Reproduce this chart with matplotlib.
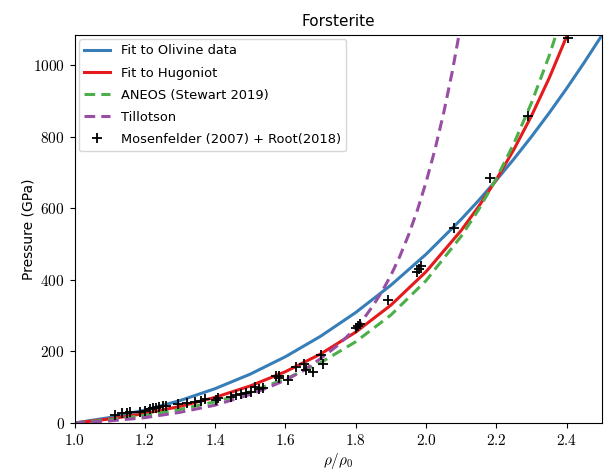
import numpy as np
import matplotlib
matplotlib.use("Agg")
import matplotlib.pyplot as plt
from matplotlib.ticker import FuncFormatter

# density ratio rho/rho0 grid used for the curves
x_fit = [1.0, 1.1, 1.2, 1.3, 1.4, 1.5, 1.6, 1.7, 1.8, 1.9, 2.0, 2.1, 2.15, 2.2,
         2.25, 2.3, 2.35, 2.4, 2.45, 2.5]

# Fit to olivine data (GPa)
p_olivine = [0, 15.3, 36.0, 62.7, 96.1, 136.7, 185.4, 242.5, 308.9, 385.2, 471.6,
             569.3, 622.4, 678.7, 738.0, 800.4, 866.0, 935.1, 1007.5, 1083.1]

# Fit to Hugoniot (GPa)
p_hugoniot = [0, 11.4, 26.7, 46.5, 71.8, 103.7, 143.5, 192.9, 254.1, 329.5, 422.8,
              538.2, 605.6, 680.5, 764.6, 858.6, 963.2, 1080.4, 1211.5, 1360.0]

# ANEOS (Stewart 2019)
x_aneos = [1.0, 1.1, 1.2, 1.3, 1.4, 1.5, 1.6, 1.7, 1.8, 1.9, 2.0, 2.1, 2.15, 2.2,
           2.25, 2.3, 2.35, 2.4]
p_aneos = [0, 9.1, 21.4, 37.9, 59.4, 87.3, 123.0, 168.7, 227.2, 301.9, 398.0,
           521.9, 597.1, 683.1, 781.6, 894.9, 1025.5, 1176.5]

# Tillotson
x_till = [1.0, 1.1, 1.2, 1.3, 1.4, 1.5, 1.55, 1.6, 1.65, 1.7, 1.75, 1.8, 1.825,
          1.85, 1.875, 1.9, 1.925, 1.95, 1.975, 2.0, 2.025, 2.05, 2.075, 2.1]
p_till = [0, 6, 15, 30, 50, 80, 99, 120, 146, 180, 218, 265, 295,
          329, 368, 413, 465, 525, 594, 673, 763, 866, 984, 1119]

# Mosenfelder (2007) + Root (2018) data
x_data = [1.115, 1.134, 1.148, 1.157, 1.186, 1.200, 1.214, 1.223, 1.231, 1.240,
          1.252, 1.261, 1.294, 1.320, 1.342, 1.361, 1.370, 1.403, 1.408, 1.446,
          1.460, 1.474, 1.488, 1.502, 1.512, 1.526, 1.535, 1.573, 1.581, 1.583,
          1.606, 1.630, 1.654, 1.658, 1.677, 1.701, 1.708, 1.800, 1.805, 1.811,
          1.892, 1.975, 1.980, 1.987, 2.079, 2.181, 2.290, 2.405]
p_data = [22, 27, 29, 30, 32, 34, 38, 41, 43, 46,
          47, 48, 53, 57, 60, 62, 66, 64, 69, 73,
          78, 81, 85, 87, 100, 94, 99, 131, 125, 131,
          120, 157, 165, 148, 143, 190, 165, 265, 272, 278,
          345, 423, 430, 439, 544, 684, 859, 1075]

plt.rcParams['mathtext.fontset'] = 'cm'
plt.rcParams['font.family'] = 'DejaVu Sans'

fig = plt.figure(figsize=(6.16, 4.69), dpi=100)
ax = fig.add_axes([0.121, 0.098, 0.856, 0.828])

ax.plot(x_fit, p_olivine, color='#377eb8', lw=2.2, label='Fit to Olivine data')
ax.plot(x_fit, p_hugoniot, color='#e41a1c', lw=2.2, label='Fit to Hugoniot')
ax.plot(x_aneos, p_aneos, color='#4daf4a', lw=2.2, ls=(0, (3.5, 2)),
        label='ANEOS (Stewart 2019)')
ax.plot(x_till, p_till, color='#984ea3', lw=2.2, ls=(0, (3.5, 2)), label='Tillotson')
ax.plot(x_data, p_data, ls='none', marker='+', ms=7, mew=1.3, color='black',
        label='Mosenfelder (2007) + Root(2018)')

ax.set_xlim(1.0, 2.5)
ax.set_ylim(0, 1085)
ax.set_xticks([1.0, 1.2, 1.4, 1.6, 1.8, 2.0, 2.2, 2.4])
ax.set_yticks([0, 200, 400, 600, 800, 1000])
ax.xaxis.set_major_formatter(FuncFormatter(lambda v, p: f'${v:.1f}$'))
ax.yaxis.set_major_formatter(FuncFormatter(lambda v, p: f'${v:.0f}$'))
ax.tick_params(labelsize=11)

ax.set_xlabel(r'$\rho/\rho_0$', fontsize=11, labelpad=2)
ax.set_ylabel('Pressure (GPa)', fontsize=10, labelpad=-2)
ax.set_title('Forsterite', fontsize=11)
ax.legend(loc='upper left', fontsize=9.4, handlelength=2.0,
          labelspacing=0.7, borderaxespad=0.35)

fig.savefig('out.png', dpi=100)
